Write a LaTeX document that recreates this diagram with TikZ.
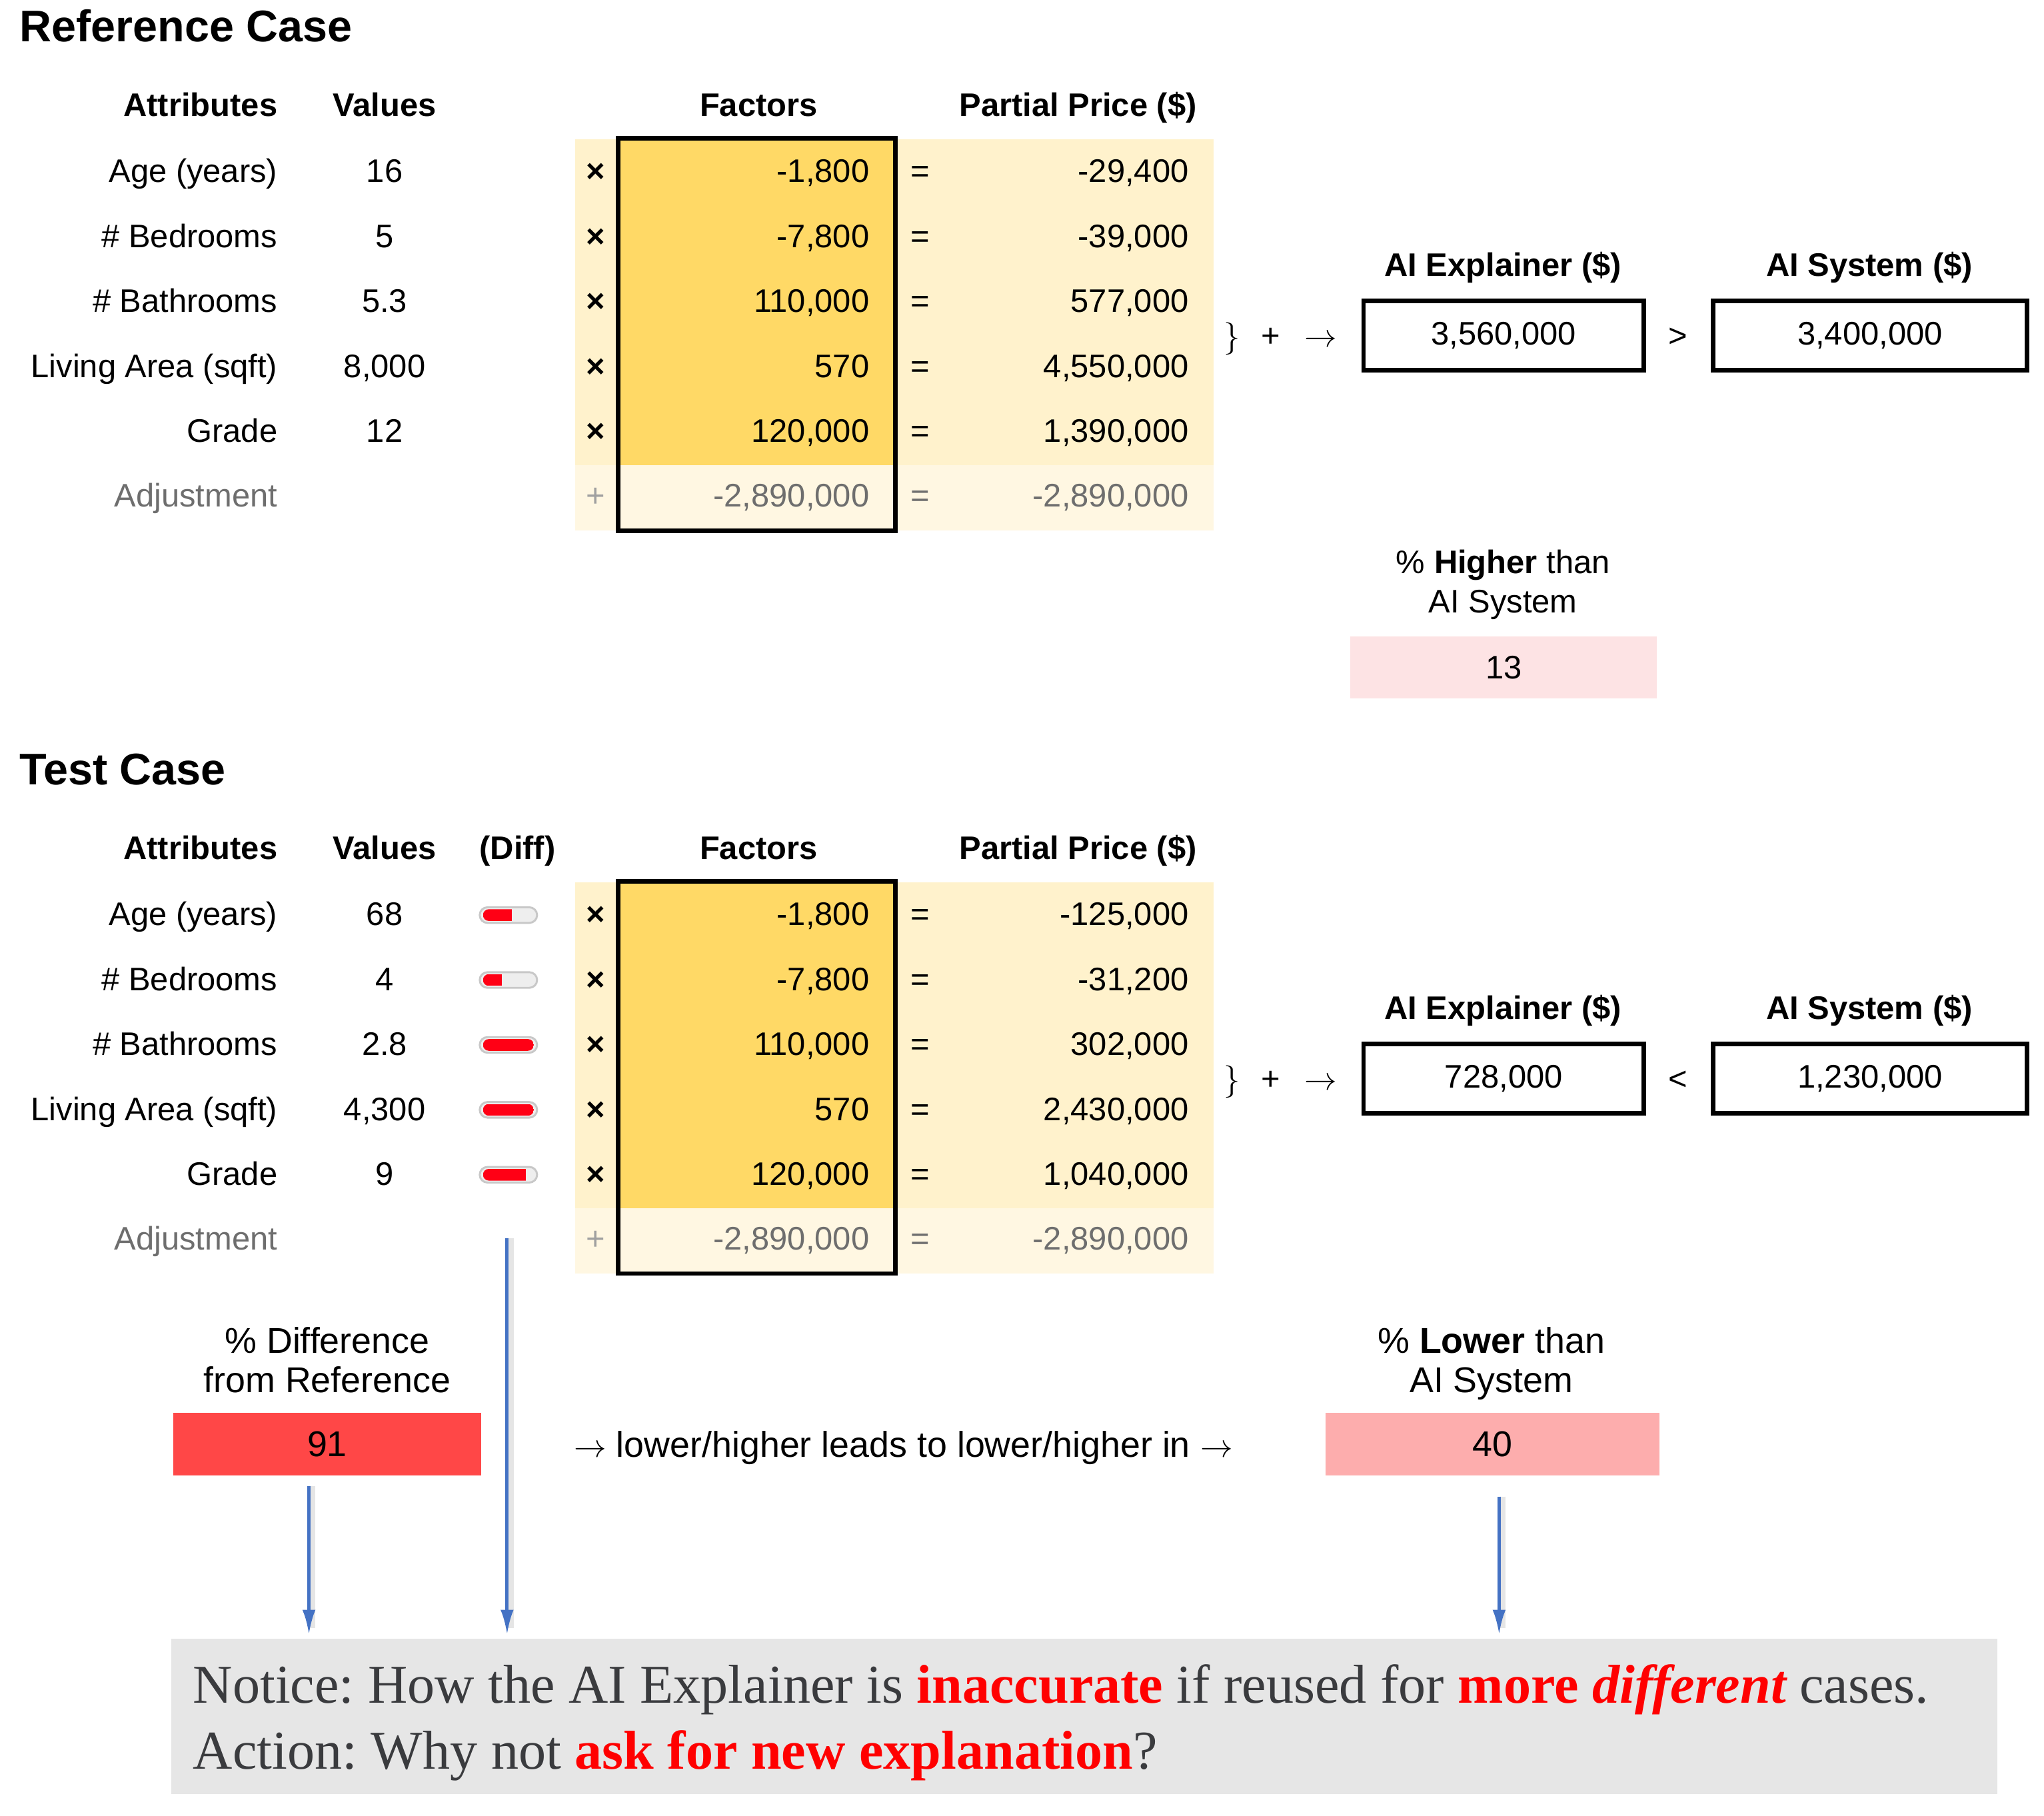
\documentclass[tikz,border=0pt]{standalone}
\usepackage{fontspec}
\setmainfont{Liberation Sans}
\newfontfamily\serifnote{Liberation Serif}
\usetikzlibrary{arrows.meta}
\frenchspacing
\definecolor{lyellow}{HTML}{FFF2CC}
\definecolor{dyellow}{HTML}{FFD966}
\definecolor{adjyellow}{HTML}{FFF7E2}
\definecolor{adjgray}{HTML}{6E6E6E}
\definecolor{plusgray}{HTML}{A0A0A0}
\definecolor{pinkA}{HTML}{FDE3E4}
\definecolor{redbox}{HTML}{FF4747}
\definecolor{pinkB}{HTML}{FDADAD}
\definecolor{arrowblue}{HTML}{4472C4}
\definecolor{notegray}{HTML}{E6E6E6}
\definecolor{notetext}{HTML}{3A3B3E}
\definecolor{hired}{HTML}{FF0000}
\definecolor{pillred}{HTML}{FF0015}
\definecolor{pillbg}{HTML}{EEEEEE}
\definecolor{pillborder}{HTML}{C8C8C8}
\tikzset{
  txt/.style={inner sep=0pt, font=\fontsize{25}{30}\selectfont},
  hdr/.style={inner sep=0pt, font=\fontsize{25}{30}\selectfont\bfseries},
  ttl/.style={inner sep=0pt, font=\fontsize{34}{40}\selectfont\bfseries},
  bigtxt/.style={inner sep=0pt, font=\fontsize{27.5}{32}\selectfont},
  valbox/.style={txt, draw, line width=3.5pt, minimum height=53pt},
  pctbox/.style={txt, minimum height=48pt},
  bigbox/.style={bigtxt, minimum height=48pt},
  pillshape/.style={draw=pillborder, fill=pillbg, line width=1.5pt, rounded corners=6pt, minimum width=44pt, minimum height=12pt, inner sep=0pt},
  barrow/.style={draw=arrowblue, line width=2.5pt, -{Latex[length=19pt,width=10pt]}, shorten >=3pt},
  shadowline/.style={draw=black!10, line width=4pt, shorten >=8pt},
  notetxt/.style={inner sep=0pt, font=\serifnote\fontsize{42}{48}\selectfont, text=notetext},
  factbox/.style={draw, line width=3.5pt}
}
\newcommand\myrow[6]{%
  \node[txt,anchor=base east] (#1a) at (213,#2) {#3};
  \node[txt,anchor=base] (#1v) at (295,#2) {#4};
  \node[txt,anchor=base] (#1x) at (457,#2) {\bfseries ×};
  \node[txt,anchor=base east] (#1f) at (667,#2) {#5};
  \node[txt,anchor=base] (#1e) at (706,#2) {=};
  \node[txt,anchor=base east] (#1p) at (912,#2) {#6};
}
\newcommand\myadj[2]{%
  \node[txt,anchor=base east,text=adjgray] (#1a) at (213,#2) {Adjustment};
  \node[txt,anchor=base,text=plusgray] (#1x) at (457,#2) {+};
  \node[txt,anchor=base east,text=adjgray] (#1f) at (667,#2) {-2,890,000};
  \node[txt,anchor=base,text=adjgray] (#1e) at (706,#2) {=};
  \node[txt,anchor=base east,text=adjgray] (#1p) at (912,#2) {-2,890,000};
}
\newcommand\mypill[3]{%
  \node[pillshape] (#1) at (390,#2) {};
  \begin{scope}
    \clip[rounded corners=4.5pt] (370.5,#2-4.5) rectangle (409.5,#2+4.5);
    \fill[pillred] (370.5,#2-4.5) rectangle ({370.5+39*#3},#2+4.5);
  \end{scope}
}
\begin{document}
\begin{tikzpicture}[x=1pt,y=-1pt]
\fill[white] (0,0) rectangle (1568,1393);
\useasboundingbox (0,0) rectangle (1568,1393);

% ---------------- Reference case ----------------
\node[ttl,anchor=base west] (reftitle) at (15,32) {Reference Case};
\node[hdr,anchor=base east] (rhA) at (213,89) {Attributes};
\node[hdr,anchor=base] (rhV) at (295,89) {Values};
\node[hdr,anchor=base] (rhF) at (582,89) {Factors};
\node[hdr,anchor=base] (rhP) at (827,89) {Partial Price (\$)};

\fill[lyellow] (441,107) rectangle (931,357);
\fill[adjyellow] (441,357) rectangle (931,407);
\fill[dyellow] (474,107) rectangle (687,357);
\draw[factbox] (474,106) rectangle (687,407);

\myrow{r1}{140}{Age (years)}{16}{-1,800}{-29,400}
\myrow{r2}{189.8}{\# Bedrooms}{5}{-7,800}{-39,000}
\myrow{r3}{239.6}{\# Bathrooms}{5.3}{110,000}{577,000}
\myrow{r4}{289.4}{Living Area (sqft)}{8,000}{570}{4,550,000}
\myrow{r5}{339.2}{Grade}{12}{120,000}{1,390,000}
\myadj{r6}{389}

\node[txt,anchor=base] (rbr) at (945,266) {$\}$};
\node[txt,anchor=base] (rpl) at (975,266) {+};
\node[txt,anchor=base] (rar) at (1013,266) {$\rightarrow$};
\node[hdr,anchor=base] (rexpl) at (1153,212) {AI Explainer (\$)};
\node[valbox,minimum width=215pt] (rexp) at (1153.5,257.5) {3,560,000};
\node[txt,anchor=base] (rgt) at (1287,266) {>};
\node[hdr,anchor=base] (rsysl) at (1434,212) {AI System (\$)};
\node[valbox,minimum width=241pt] (rsys) at (1434.5,257.5) {3,400,000};
\node[txt,anchor=base] (rpct1) at (1153,440) {\% \textbf{Higher} than};
\node[txt,anchor=base] (rpct2) at (1153,470) {AI System};
\node[pctbox,fill=pinkA,minimum width=235pt] (rpct) at (1153.5,512) {13};

% ---------------- Test case ----------------
\node[ttl,anchor=base west] (testtitle) at (15,602) {Test Case};
\node[hdr,anchor=base east] (thA) at (213,659) {Attributes};
\node[hdr,anchor=base] (thV) at (295,659) {Values};
\node[hdr,anchor=base] (thD) at (397,659) {(Diff)};
\node[hdr,anchor=base] (thF) at (582,659) {Factors};
\node[hdr,anchor=base] (thP) at (827,659) {Partial Price (\$)};

\fill[lyellow] (441,677) rectangle (931,927);
\fill[adjyellow] (441,927) rectangle (931,977);
\fill[dyellow] (474,677) rectangle (687,927);
\draw[factbox] (474,676) rectangle (687,977);

\myrow{t1}{710}{Age (years)}{68}{-1,800}{-125,000}
\myrow{t2}{759.8}{\# Bedrooms}{4}{-7,800}{-31,200}
\myrow{t3}{809.6}{\# Bathrooms}{2.8}{110,000}{302,000}
\myrow{t4}{859.4}{Living Area (sqft)}{4,300}{570}{2,430,000}
\myrow{t5}{909.2}{Grade}{9}{120,000}{1,040,000}
\myadj{t6}{959}

\mypill{p1}{702}{0.57}
\mypill{p2}{751.8}{0.37}
\mypill{p3}{801.6}{1}
\mypill{p4}{851.4}{1}
\mypill{p5}{901.2}{0.84}

\node[txt,anchor=base] (tbr) at (945,836) {$\}$};
\node[txt,anchor=base] (tpl) at (975,836) {+};
\node[txt,anchor=base] (tar) at (1013,836) {$\rightarrow$};
\node[hdr,anchor=base] (texpl) at (1153,782) {AI Explainer (\$)};
\node[valbox,minimum width=215pt] (texp) at (1153.5,827.5) {728,000};
\node[txt,anchor=base] (tlt) at (1287,836) {<};
\node[hdr,anchor=base] (tsysl) at (1434,782) {AI System (\$)};
\node[valbox,minimum width=241pt] (tsys) at (1434.5,827.5) {1,230,000};

% ---------------- Bottom ----------------
\node[bigtxt,anchor=base] (dif1) at (251,1038) {\% Difference};
\node[bigtxt,anchor=base] (dif2) at (251,1068) {from Reference};
\node[bigbox,fill=redbox,minimum width=236pt] (dif) at (251,1108) {91};
\node[bigtxt,anchor=base] (mid) at (693,1118) {$\rightarrow$ lower/higher leads to lower/higher in $\rightarrow$};
\node[bigtxt,anchor=base] (low1) at (1144,1038) {\% \textbf{Lower} than};
\node[bigtxt,anchor=base] (low2) at (1144,1068) {AI System};
\node[bigbox,fill=pinkB,minimum width=256pt] (low) at (1145,1108) {40};

\node[fill=notegray,minimum width=1401pt,minimum height=119pt,inner sep=0pt,anchor=north west] (note) at (131,1257) {};
\node[notetxt,anchor=base west] (note1) at (148,1306.5) {Notice: How the AI Explainer is {\bfseries\color{hired}inaccurate} if reused for {\bfseries\color{hired}more \itshape different} cases.};
\node[notetxt,anchor=base west] (note2) at (148,1357) {Action: Why not {\bfseries\color{hired}ask for new explanation}?};

\coordinate (a1s) at (237,1140);
\coordinate (a2s) at (389,950);
\coordinate (a3s) at (1150,1148);
\coordinate (a1e) at (a1s |- note.north);
\coordinate (a2e) at (a2s |- note.north);
\coordinate (a3e) at (a3s |- note.north);
\draw[shadowline] ([xshift=3pt]a1s) -- ([xshift=3pt]a1e);
\draw[shadowline] ([xshift=3pt]a2s) -- ([xshift=3pt]a2e);
\draw[shadowline] ([xshift=3pt]a3s) -- ([xshift=3pt]a3e);
\draw[barrow] (a1s) -- (a1e);
\draw[barrow] (a2s) -- (a2e);
\draw[barrow] (a3s) -- (a3e);
\end{tikzpicture}
\end{document}
